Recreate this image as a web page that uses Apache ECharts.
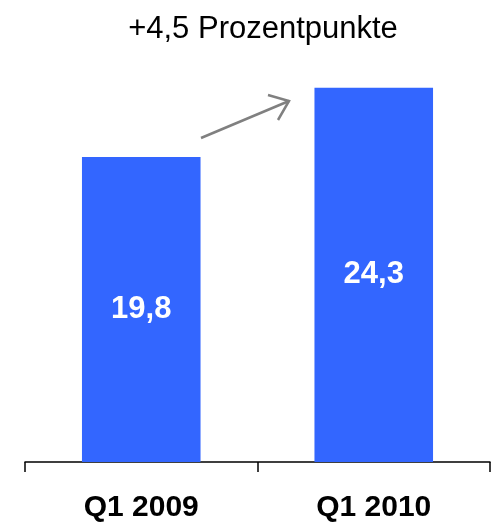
<!DOCTYPE html>
<html>
<head>
<meta charset="utf-8">
<script src="https://cdn.jsdelivr.net/npm/echarts@6/dist/echarts.min.js"></script>
<style>
  html, body { margin: 0; padding: 0; background: #fff; }
  #chart { width: 492px; height: 525px; }
</style>
</head>
<body>
<div id="chart"></div>
<script>
const FONT_FAMILY = "'Liberation Sans', Arial, sans-serif"
const categories = ['Q1 2009', 'Q1 2010']
const values = [19.8, 24.3]
const titleText = '+4,5 Prozentpunkte'

const chart = echarts.init(document.getElementById('chart'))

chart.setOption({
  animation: false,
  title: {
    text: titleText,
    left: 258,
    textAlign: 'center',
    top: 9,
    textStyle: { fontFamily: FONT_FAMILY, fontSize: 31, fontWeight: 'normal', color: '#000' },
  },
  grid: { left: 25, right: 2, top: 77, bottom: 63, containLabel: false },
  xAxis: {
    type: 'category',
    data: categories,
    boundaryGap: true,
    axisLine: { show: true, lineStyle: { color: '#000', width: 1.5 } },
    axisTick: { show: true, alignWithLabel: false, interval: 0, length: 10, lineStyle: { color: '#000', width: 1.5 } },
    axisLabel: {
      margin: 31,
      fontFamily: FONT_FAMILY,
      fontSize: 30,
      fontWeight: 'bold',
      color: '#000',
    },
  },
  yAxis: {
    type: 'value',
    min: 0,
    max: 25,
    show: false,
    splitLine: { show: false },
  },
  series: [{
    type: 'bar',
    data: values,
    barWidth: '51%',
    itemStyle: { color: '#3366FF' },
    label: {
      show: true,
      position: 'inside',
      formatter: p => String(p.value).replace('.', ','),
      fontFamily: FONT_FAMILY,
      fontSize: 31,
      fontWeight: 'bold',
      color: '#fff',
    },
  }],
  graphic: [
    {
      type: 'line',
      shape: { x1: 201, y1: 138, x2: 289, y2: 101 },
      style: { stroke: '#808080', lineWidth: 2.5 },
    },
    {
      type: 'polyline',
      shape: { points: [[268, 95], [289, 101], [278, 120]] },
      style: { stroke: '#808080', lineWidth: 2.5, fill: null },
    },
  ],
})
</script>
</body>
</html>
